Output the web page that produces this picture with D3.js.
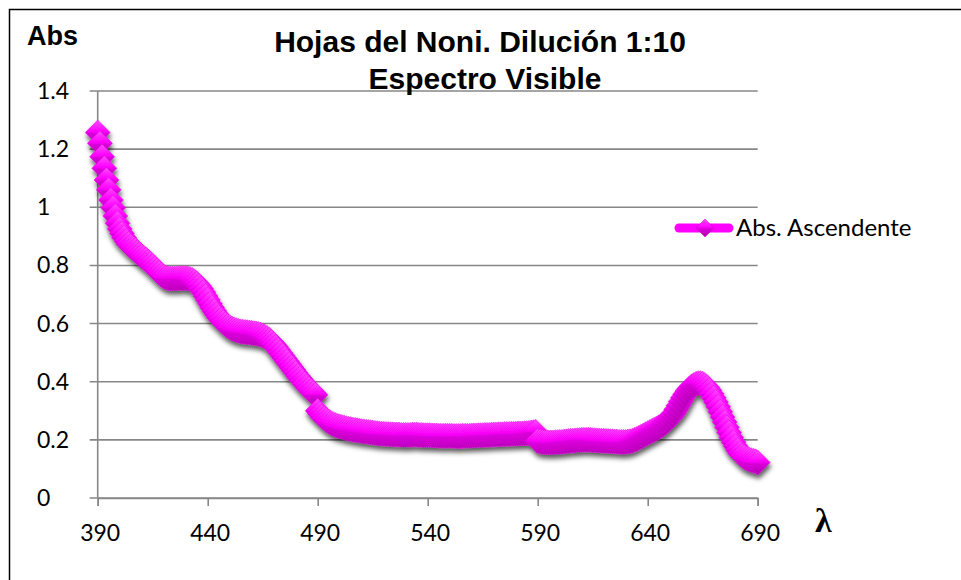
<!DOCTYPE html>
<html>
<head>
<meta charset="utf-8">
<script src="https://cdn.jsdelivr.net/npm/d3@7/dist/d3.min.js"></script>
<style>
    body { margin: 0; background: #fff; }
</style>
</head>
<body>
<script>
// Absorbance readings, one per nm starting at 390 nm
const lambdaStart = 390;
const absAscendente = [
    1.257, 1.220, 1.174, 1.134, 1.094, 1.060, 1.025, 0.998, 0.970, 0.945,
    0.925, 0.910, 0.896, 0.884, 0.874, 0.866, 0.860, 0.853, 0.846, 0.839,
    0.832, 0.826, 0.820, 0.813, 0.806, 0.798, 0.790, 0.782, 0.775, 0.768,
    0.762, 0.758, 0.756, 0.755, 0.755, 0.755, 0.755, 0.756, 0.756, 0.756,
    0.756, 0.755, 0.753, 0.750, 0.745, 0.738, 0.730, 0.720, 0.708, 0.695,
    0.682, 0.668, 0.655, 0.643, 0.632, 0.622, 0.613, 0.605, 0.598, 0.592,
    0.587, 0.583, 0.580, 0.577, 0.575, 0.573, 0.572, 0.571, 0.570, 0.569,
    0.568, 0.567, 0.566, 0.564, 0.562, 0.559, 0.555, 0.550, 0.544, 0.537,
    0.529, 0.520, 0.510, 0.500, 0.490, 0.480, 0.470, 0.460, 0.450, 0.440,
    0.430, 0.420, 0.411, 0.402, 0.393, 0.384, 0.376, 0.368, 0.361, 0.355,
    0.300, 0.290, 0.281, 0.274, 0.268, 0.263, 0.258, 0.254, 0.251, 0.248,
    0.246, 0.244, 0.242, 0.240, 0.238, 0.237, 0.235, 0.234, 0.233, 0.231,
    0.230, 0.229, 0.228, 0.227, 0.226, 0.225, 0.224, 0.223, 0.222, 0.221,
    0.221, 0.220, 0.220, 0.219, 0.219, 0.218, 0.218, 0.218, 0.217, 0.217,
    0.217, 0.217, 0.217, 0.218, 0.218, 0.218, 0.217, 0.217, 0.216, 0.216,
    0.216, 0.216, 0.215, 0.215, 0.215, 0.214, 0.214, 0.214, 0.214, 0.214,
    0.214, 0.214, 0.213, 0.213, 0.213, 0.213, 0.214, 0.214, 0.214, 0.214,
    0.215, 0.215, 0.215, 0.216, 0.216, 0.216, 0.217, 0.217, 0.217, 0.218,
    0.218, 0.218, 0.219, 0.219, 0.219, 0.220, 0.220, 0.220, 0.221, 0.221,
    0.221, 0.222, 0.222, 0.222, 0.223, 0.223, 0.224, 0.225, 0.226, 0.228,
    0.196, 0.194, 0.193, 0.192, 0.192, 0.191, 0.191, 0.191, 0.192, 0.192,
    0.193, 0.193, 0.194, 0.195, 0.196, 0.197, 0.197, 0.198, 0.199, 0.199,
    0.200, 0.200, 0.200, 0.200, 0.200, 0.199, 0.199, 0.198, 0.198, 0.197,
    0.197, 0.196, 0.196, 0.195, 0.195, 0.194, 0.194, 0.193, 0.193, 0.193,
    0.193, 0.194, 0.195, 0.197, 0.200, 0.203, 0.207, 0.211, 0.215, 0.219,
    0.223, 0.227, 0.231, 0.235, 0.239, 0.243, 0.248, 0.253, 0.259, 0.266,
    0.274, 0.283, 0.293, 0.305, 0.318, 0.332, 0.345, 0.357, 0.368, 0.377,
    0.384, 0.389, 0.393, 0.395, 0.395, 0.393, 0.388, 0.381, 0.371, 0.359,
    0.345, 0.330, 0.314, 0.297, 0.279, 0.261, 0.243, 0.225, 0.208, 0.192,
    0.178, 0.165, 0.154, 0.146, 0.140, 0.136, 0.133, 0.130, 0.128, 0.126,
    0.122
];
const xTicks = [390, 440, 490, 540, 590, 640, 690];
const yTicks = [0, 0.2, 0.4, 0.6, 0.8, 1, 1.2, 1.4];
const yTickLabels = ["0", "0.2", "0.4", "0.6", "0.8", "1", "1.2", "1.4"];
const titleLines = ["Hojas del Noni. Dilución 1:10", "Espectro Visible"];
const seriesName = "Abs. Ascendente";

const width = 961,
    height = 580,
    magenta = "#ff00ff",
    gridColour = "#878787",
    labelFont = "Lato, 'Open Sans', sans-serif";

const svg = d3.select("body").append("svg")
    .attr("width", width)
    .attr("height", height);

const defs = svg.append("defs");
const grad = defs.append("linearGradient")
    .attr("id", "bevel")
    .attr("x1", 0).attr("y1", 0).attr("x2", 0).attr("y2", 1);
grad.append("stop").attr("offset", "0%").attr("stop-color", "#ff4dff");
grad.append("stop").attr("offset", "45%").attr("stop-color", "#ff00ff");
grad.append("stop").attr("offset", "55%").attr("stop-color", "#d800d8");
grad.append("stop").attr("offset", "100%").attr("stop-color", "#b000b0");

const shadow = defs.append("filter")
    .attr("id", "shadow")
    .attr("x", "-10%").attr("y", "-10%")
    .attr("width", "130%").attr("height", "140%");
shadow.append("feDropShadow")
    .attr("dx", 1).attr("dy", 4)
    .attr("stdDeviation", 2.5)
    .attr("flood-color", "#000")
    .attr("flood-opacity", 0.65);

// chart frame
svg.append("rect")
    .attr("x", 9.5).attr("y", 9.5)
    .attr("width", 1000).attr("height", 1000)
    .attr("fill", "none")
    .attr("stroke", "#000")
    .attr("stroke-width", 1.5);

const plot = { left: 97.7, right: 757.7, top: 91, bottom: 498 };

const x = d3.scaleLinear()
    .domain([390, 690])
    .range([plot.left, plot.right]);
const y = d3.scaleLinear()
    .domain([0, 1.4])
    .range([plot.bottom, plot.top]);

// horizontal gridlines
svg.append("g")
    .selectAll("line")
    .data(yTicks)
    .enter()
    .append("line")
    .attr("x1", plot.left - 8)
    .attr("x2", plot.right)
    .attr("y1", d => y(d))
    .attr("y2", d => y(d))
    .attr("stroke", gridColour)
    .attr("stroke-width", 1.6);

// y axis line
svg.append("line")
    .attr("x1", plot.left).attr("x2", plot.left)
    .attr("y1", plot.top).attr("y2", plot.bottom)
    .attr("stroke", gridColour)
    .attr("stroke-width", 1.6);

// x axis
const xAxis = svg.append("g")
    .attr("transform", "translate(0," + plot.bottom + ")")
    .call(d3.axisBottom(x).tickValues(xTicks).tickSize(8).tickFormat(d3.format("d")));
xAxis.select(".domain").attr("stroke", gridColour).attr("stroke-width", 1.6);
xAxis.selectAll(".tick line").attr("stroke", gridColour).attr("stroke-width", 1.6);
xAxis.selectAll(".tick text")
    .attr("y", 43)
    .attr("dy", 0)
    .attr("dx", 2)
    .attr("fill", "#000")
    .style("font-family", labelFont)
    .style("font-size", "23px");

// y tick labels (left aligned like the original)
svg.append("g")
    .selectAll("text")
    .data(yTicks)
    .enter()
    .append("text")
    .attr("x", 37)
    .attr("y", d => y(d) + 8)
    .style("font-family", labelFont)
    .style("font-size", "23px")
    .text((d, i) => yTickLabels[i]);

// series line + diamonds
const points = absAscendente.map((v, i) => [lambdaStart + i, v]);
const series = svg.append("g").attr("filter", "url(#shadow)");

series.append("path")
    .datum(points)
    .attr("d", d3.line().x(d => x(d[0])).y(d => y(d[1])))
    .attr("fill", "none")
    .attr("stroke", magenta)
    .attr("stroke-width", 8)
    .attr("stroke-linejoin", "round");

const diamond = "M0,-12.5 L12.5,0 L0,12.5 L-12.5,0 Z";
series.selectAll("path.marker")
    .data(points)
    .enter()
    .append("path")
    .attr("class", "marker")
    .attr("d", diamond)
    .attr("transform", d => `translate(${x(d[0])},${y(d[1])})`)
    .attr("fill", "url(#bevel)")
    .attr("stroke", "#e600e6")
    .attr("stroke-width", 0.5);

// legend
const legend = svg.append("g").attr("transform", "translate(675,228)");
legend.append("line")
    .attr("x1", 4).attr("x2", 54)
    .attr("y1", 0).attr("y2", 0)
    .attr("stroke", magenta)
    .attr("stroke-width", 9)
    .attr("stroke-linecap", "round");
legend.append("path")
    .attr("d", "M0,-9 L9,0 L0,9 L-9,0 Z")
    .attr("transform", "translate(30,0)")
    .attr("fill", "url(#bevel)")
    .attr("stroke", "#c000c0")
    .attr("stroke-width", 0.5);
legend.append("text")
    .attr("x", 61)
    .attr("y", 8)
    .style("font-family", labelFont)
    .style("font-size", "24px")
    .text(seriesName);

// titles
svg.append("text")
    .attr("x", 480)
    .attr("y", 52)
    .attr("text-anchor", "middle")
    .style("font-family", "'Liberation Sans', Arial, sans-serif")
    .style("font-weight", "bold")
    .style("font-size", "30px")
    .text(titleLines[0]);
svg.append("text")
    .attr("x", 485)
    .attr("y", 89)
    .attr("text-anchor", "middle")
    .style("font-family", "'Liberation Sans', Arial, sans-serif")
    .style("font-weight", "bold")
    .style("font-size", "30px")
    .text(titleLines[1]);

// axis titles
svg.append("text")
    .attr("x", 27)
    .attr("y", 45)
    .style("font-family", "'Liberation Sans', Arial, sans-serif")
    .style("font-size", "27px")
    .style("font-weight", "bold")
    .text("Abs");
svg.append("text")
    .attr("x", 815)
    .attr("y", 532)
    .style("font-family", "'Liberation Serif', 'DejaVu Serif', serif")
    .style("font-weight", "bold")
    .style("font-size", "34px")
    .text("λ");
</script>
</body>
</html>
